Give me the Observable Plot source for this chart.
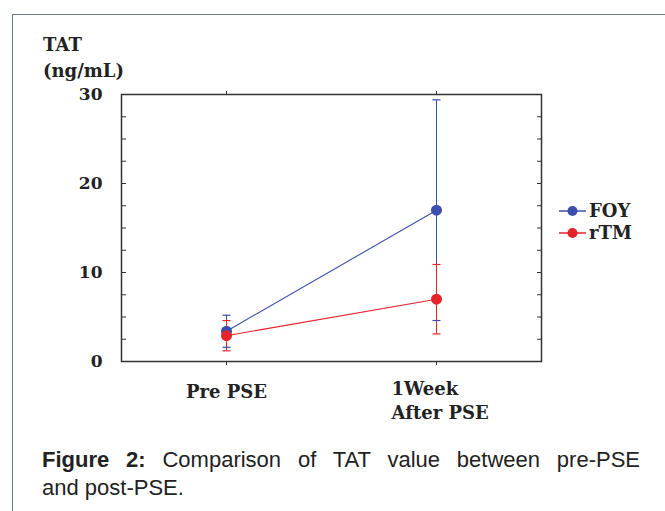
<!DOCTYPE html>
<html>
<head>
<meta charset="utf-8">
<script src="https://cdn.jsdelivr.net/npm/d3@7"></script>
<script src="https://cdn.jsdelivr.net/npm/@observablehq/plot@0.6"></script>
<style>
  html, body { margin: 0; padding: 0; background: #fff; }
  #wrap { position: relative; width: 665px; height: 511px; overflow: hidden; }
  #border { position: absolute; left: 12px; top: 14px; width: 700px; height: 520px;
            border-left: 1.5px solid #6a7888; border-top: 1.5px solid #6a7888; }
  #chart { position: absolute; left: 0; top: 0; }
  .serif { font-family: "DejaVu Serif", serif; font-weight: bold; color: #222; }
  #ylab { position: absolute; left: 43px; top: 32px; font-size: 18px; line-height: 26px; }
  #legend { position: absolute; left: 558px; top: 200px; font-size: 18px; line-height: 22px; }
  #legend div { display: flex; align-items: center; }
  #caption { position: absolute; left: 42px; top: 446px; width: 598px; font-family: "Liberation Sans", Arial, sans-serif;
             font-size: 22px; line-height: 28px; color: #222; }
  #caption .l1 { text-align: justify; text-align-last: justify; }
</style>
</head>
<body>
<div id="wrap">
  <div id="border"></div>
  <div id="chart"></div>
  <div id="ylab" class="serif">TAT<br>(ng/mL)</div>
  <div id="legend" class="serif"></div>
  <div id="caption"><div class="l1"><b>Figure 2:</b> Comparison of TAT value between pre-PSE</div><div>and post-PSE.</div></div>
</div>
<script>
// ---- data ----
const categories = ["Pre PSE", "1Week\nAfter PSE"];
const seriesNames = ["FOY", "rTM"];
const seriesColors = ["#3b4fae", "#e5232b"];
const foyMean = [3.4, 17.0];
const foyLow = [1.6, 4.6];
const foyHigh = [5.2, 29.4];
const rtmMean = [2.9, 7.0];
const rtmLow = [1.2, 3.1];
const rtmHigh = [4.6, 10.9];
const yTickLabels = [0, 10, 20, 30];
const yMinorTicks = [0, 2.5, 5, 7.5, 10, 12.5, 15, 17.5, 20, 22.5, 25, 27.5, 30];

const rows = [];
categories.forEach((c, i) => {
  rows.push({cat: c, series: "FOY", mean: foyMean[i], lo: foyLow[i], hi: foyHigh[i]});
  rows.push({cat: c, series: "rTM", mean: rtmMean[i], lo: rtmLow[i], hi: rtmHigh[i]});
});

const capSymbol = { draw(ctx, size) { ctx.moveTo(-4, 0); ctx.lineTo(4, 0); } };
const serif = "DejaVu Serif";

const plot = Plot.plot({
  width: 665,
  height: 440,
  marginLeft: 121,
  marginRight: 124,
  marginTop: 94,
  marginBottom: 79,
  style: { fontFamily: serif, background: "transparent" },
  x: { type: "point", domain: categories, padding: 0.5 },
  y: { domain: [0, 30] },
  color: { domain: seriesNames, range: seriesColors },
  marks: [
    Plot.axisY(yMinorTicks, { anchor: "left", tickSize: -5, tickFormat: () => "", label: null, stroke: "#333" }),
    Plot.axisY(yMinorTicks, { anchor: "right", tickSize: -5, tickFormat: () => "", label: null, stroke: "#333" }),
    Plot.axisY(yTickLabels, { anchor: "left", tickSize: 0, tickPadding: 19, label: null,
      fontSize: 17, fontWeight: "bold", fill: "#222" }),
    Plot.axisX(categories, { anchor: "top", tickSize: 4, tickFormat: () => "", label: null, stroke: "#333" }),
    Plot.axisX(categories, { anchor: "bottom", tickSize: 4, tickFormat: () => "", label: null, stroke: "#333" }),
    Plot.text([categories[0]], { x: d => d, frameAnchor: "bottom", dy: 31, fontSize: 18, fontWeight: "bold",
      fill: "#222", text: d => d, textAnchor: "middle", lineAnchor: "middle" }),
    Plot.text([categories[1]], { x: d => d, frameAnchor: "bottom", dy: 38, fontSize: 18, fontWeight: "bold",
      fill: "#222", text: d => d, textAnchor: "start", dx: -45, lineHeight: 1.3, lineAnchor: "middle" }),
    Plot.frame({ stroke: "#333", strokeWidth: 1.5 }),
    Plot.ruleX(rows, { x: "cat", y1: "lo", y2: "hi", stroke: "series", strokeWidth: 1 }),
    Plot.dot(rows, { x: "cat", y: "hi", symbol: capSymbol, stroke: "series", strokeWidth: 1.2 }),
    Plot.dot(rows, { x: "cat", y: "lo", symbol: capSymbol, stroke: "series", strokeWidth: 1.2 }),
    Plot.line(rows, { x: "cat", y: "mean", z: "series", stroke: "series", strokeWidth: 1.1 }),
    Plot.dot(rows, { x: "cat", y: "mean", fill: "series", r: 5.5 })
  ]
});
document.getElementById("chart").appendChild(plot);

// legend
const leg = document.getElementById("legend");
seriesNames.forEach((s, i) => {
  const row = document.createElement("div");
  row.innerHTML = `<svg width="30" height="14" style="margin-right:1px"><line x1="1" x2="28" y1="7" y2="7" stroke="${seriesColors[i]}" stroke-width="1.5"/><circle cx="14.5" cy="7" r="5" fill="${seriesColors[i]}"/></svg><span>${s}</span>`;
  leg.appendChild(row);
});
</script>
</body>
</html>
